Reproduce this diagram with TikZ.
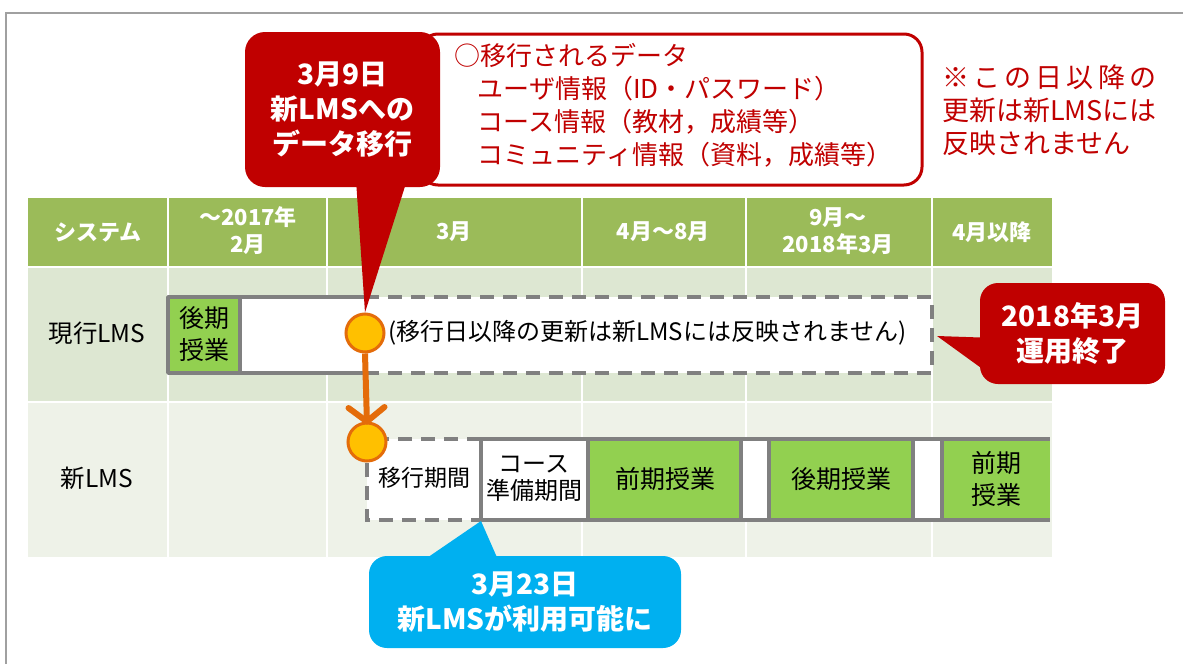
\documentclass[tikz,border=0pt]{standalone}
\usepackage{fontspec}
\setmainfont{Noto Sans CJK JP}
\usetikzlibrary{arrows.meta}
\definecolor{cred}{HTML}{C00000}
\definecolor{cblue}{HTML}{00B0F0}
\definecolor{chead}{HTML}{9BBB59}
\definecolor{crowa}{HTML}{DDE7D2}
\definecolor{crowb}{HTML}{EEF2E8}
\definecolor{cgreen}{HTML}{92D050}
\definecolor{cgray}{HTML}{808080}
\definecolor{corange}{HTML}{E46C0A}
\definecolor{cyellow}{HTML}{FFC000}
\definecolor{cframe}{HTML}{A0A0A0}
\begin{document}
\begin{tikzpicture}[x=1pt,y=-1pt,
  hdr/.style={text=white,font=\fontsize{22}{27}\selectfont\bfseries,align=center,inner sep=0pt},
  rowlbl/.style={text=black,font=\fontsize{24.5}{28}\selectfont,inner sep=0pt},
  boxtxt/.style={text=black,font=\fontsize{25}{32}\selectfont,align=center,inner sep=0pt},
  grayln/.style={draw=cgray,line width=3.5pt},
  dashln/.style={draw=cgray,line width=3.5pt,dash pattern=on 14pt off 9pt},
  callout/.style={rounded corners=20pt,text=white,font=\fontsize{28}{35}\selectfont\bfseries,align=center,inner sep=0pt},
  milestone/.style={circle,draw=corange,fill=cyellow,line width=3pt,minimum size=38pt,inner sep=0pt}]
\useasboundingbox (0,0) rectangle (1186,664);
% outer frame
\draw[cframe,line width=1.5pt] (6,664) -- (6,13) -- (1183,13);
% table backgrounds
\fill[chead] (28,198) rectangle (1052,266);
\fill[crowa] (28,268) rectangle (1052,401);
\fill[crowb] (28,403) rectangle (1052,557);
\foreach \x in {168,327,582,746,932} \draw[white,line width=1.5pt] (\x,198) -- (\x,557);
% header texts
\node[hdr] (h1) at (98,232) {システム};
\node[hdr] (h2) at (248,231) {～2017年\\2月};
\node[hdr] (h3) at (454,232) {3月};
\node[hdr] (h4) at (663,232) {4月～8月};
\node[hdr] (h5) at (838,231) {9月～\\2018年3月};
\node[hdr] (h6) at (992,232) {4月以降};
% row labels
\node[rowlbl] (l1) at (97,333) {現行LMS};
\node[rowlbl] (l2) at (97,478) {新LMS};
% row 1 bar
\fill[white] (168,297) rectangle (932,373);
\fill[cgreen] (168,297) rectangle (240,373);
\draw[grayln] (240,297) -- (240,373);
\draw[grayln,line join=round] (365,297) -- (168,297) -- (168,373) -- (365,373);
\draw[dashln] (365,297) -- (932,297) -- (932,373) -- (365,373);
\node[boxtxt,font=\fontsize{25}{32}\selectfont] (b0) at (204,334) {後期\\授業};
\node[text=black,font=\fontsize{24}{28}\selectfont,anchor=west,inner sep=0pt] (note1) at (388,333) {(移行日以降の更新は新LMSには反映されません)};
% row 2 bar
\fill[white] (367,439) rectangle (1050,520);
\fill[cgreen] (588,439) rectangle (741,520);
\fill[cgreen] (769,439) rectangle (913,520);
\fill[cgreen] (942,439) rectangle (1050,520);
\draw[dashln] (481,439) -- (367,439) -- (367,520) -- (481,520);
\draw[grayln] (481,439) -- (1050,439);
\draw[grayln] (481,520) -- (1050,520);
\foreach \x in {481,588,741,769,913,942} \draw[grayln] (\x,439) -- (\x,520);
\node[boxtxt,font=\fontsize{23}{28}\selectfont] (b1) at (424,478) {移行期間};
\node[boxtxt,font=\fontsize{24}{27}\selectfont] (b2) at (534,479) {コース\\準備期間};
\node[boxtxt] (b3) at (665,479) {前期授業};
\node[boxtxt] (b4) at (841,479) {後期授業};
\node[boxtxt] (b5) at (996,479) {前期\\授業};
% data box
\draw[cred,line width=3pt,fill=white,rounded corners=18pt] (420,34) rectangle (922,185);
\node[text=cred,font=\fontsize{26}{33}\selectfont,align=left,anchor=west,inner sep=0pt] (data) at (454,105) {○移行されるデータ\\\hspace*{0.9em}ユーザ情報（ID・パスワード）\\\hspace*{0.9em}コース情報（教材，成績等）\\\hspace*{0.9em}コミュニティ情報（資料，成績等）};
% side note
\node[text=cred,font=\fontsize{27}{33}\selectfont,align=left,anchor=west,inner sep=0pt] (side) at (942,110) {\makebox[214pt][s]{※ こ の 日 以 降 の}\\更新は新LMSには\\反映されません};
% milestones
\node[milestone] (c1) at (365,333) {};
\node[milestone] (c2) at (367,442) {};
\draw[corange,line width=6pt,-{Straight Barb[length=14pt,width=36pt,round]}] (c1.south) -- ([yshift=-3pt]c2.north);
% red callout 1
\node[callout,fill=cred,minimum width=195pt,minimum height=155pt] (k1) at (342.5,109.5) {3月9日\\新LMSへの\\データ移行};
\fill[cred] (356,180) -- (407,180) -- (c1.north) -- cycle;
% blue callout
\node[callout,fill=cblue,minimum width=312pt,minimum height=92pt,rounded corners=18pt] (k2) at (525,602) {3月23日\\新LMSが利用可能に};
\fill[cblue] (421,562) -- (499,562) -- (481,521) -- cycle;
% red callout 2
\node[callout,fill=cred,minimum width=185pt,minimum height=101pt,rounded corners=18pt] (k3) at (1072.5,333.5) {2018年3月\\運用終了};
\fill[cred] (995,338) -- (937,336) -- (995,378) -- cycle;
\end{tikzpicture}
\end{document}
